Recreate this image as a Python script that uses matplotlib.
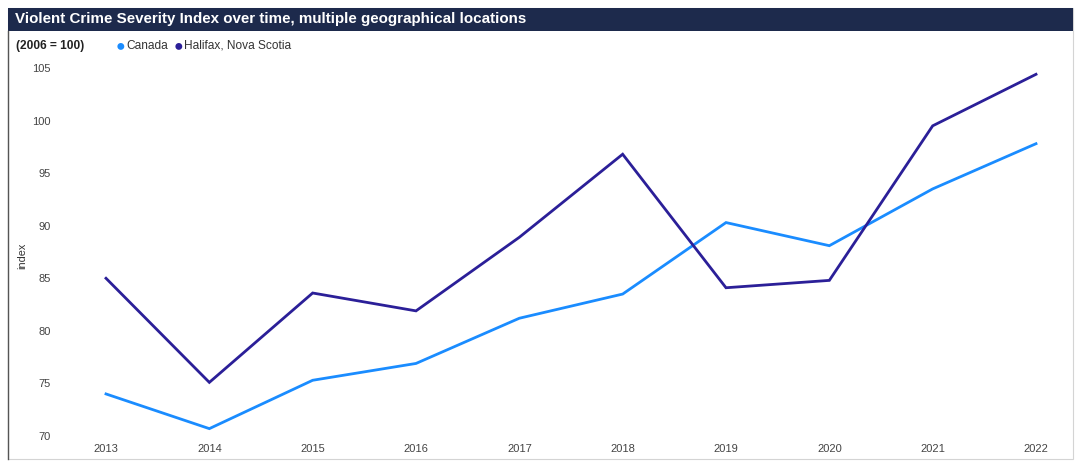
import matplotlib.pyplot as plt
from matplotlib.patches import Rectangle
from matplotlib.lines import Line2D

plt.rcParams['font.family'] = ['Liberation Sans', 'DejaVu Sans']

# data
years = [2013, 2014, 2015, 2016, 2017, 2018, 2019, 2020, 2021, 2022]
canada = [74.0, 70.7, 75.3, 76.9, 81.2, 83.5, 90.3, 88.1, 93.5, 97.8]
halifax = [85.0, 75.1, 83.6, 81.9, 88.9, 96.8, 84.1, 84.8, 99.5, 104.4]
y_ticks = [70, 75, 80, 85, 90, 95, 100, 105]

title = 'Violent Crime Severity Index over time, multiple geographical locations'
base_note = '(2006 = 100)'
series_names = ['Canada', 'Halifax, Nova Scotia']
colors = ['#1a8cff', '#2b1f98']

W, H = 1080, 463
fig = plt.figure(figsize=(W / 100, H / 100), dpi=100)

def fx(px):
    return px / W

def fy(py):
    return 1 - py / H

# outer frame and title bar
fig.add_artist(Rectangle((fx(8), fy(459)), fx(1065), (459 - 8) / H,
                         transform=fig.transFigure, fill=False,
                         edgecolor='#d4d4d4', linewidth=0.8))
fig.add_artist(Line2D([fx(8), fx(8)], [fy(31), fy(459)], transform=fig.transFigure,
                      color='#555555', linewidth=1.0))
fig.add_artist(Rectangle((fx(8), fy(31)), fx(1065), 23 / H,
                         transform=fig.transFigure, facecolor='#1d2a4c',
                         edgecolor='none'))
fig.text(fx(15), fy(19.5), title, color='white', fontsize=10.9,
         fontweight='bold', va='center', ha='left')

# subtitle + legend
fig.text(fx(16), fy(46), base_note, color='#222222', fontsize=8.6,
         fontweight='bold', va='center', ha='left')
leg_x = [120, 178]
for x, name, c in zip(leg_x, series_names, colors):
    fig.text(fx(x), fy(46), '\u25CF', color=c, fontsize=11.5, va='center', ha='center')
    fig.text(fx(x + 6), fy(46), name, color='#333333', fontsize=8.6,
             va='center', ha='left')

# plot area: 2013 at x=106, 2022 at x=1036; 70 at y=436, 105 at y=68
left_px, right_px = 70, 1060
px_per_year = (1036 - 106) / 9
x0 = 2013 - (106 - left_px) / px_per_year
x1 = 2022 + (right_px - 1036) / px_per_year
px_per_unit = (436 - 68) / 35
top_px = 58
y1 = 70 + (436 - top_px) / px_per_unit

ax = fig.add_axes([fx(left_px), fy(436), fx(right_px - left_px), (436 - top_px) / H])
ax.plot(years, canada, color=colors[0], linewidth=2.0, solid_joinstyle='miter')
ax.plot(years, halifax, color=colors[1], linewidth=2.0, solid_joinstyle='miter')

ax.set_xlim(x0, x1)
ax.set_ylim(70, y1)
ax.set_xticks(years)
ax.set_yticks(y_ticks)
ax.tick_params(axis='both', length=0, labelsize=8.0, labelcolor='#444444')
ax.tick_params(axis='y', pad=14)
ax.tick_params(axis='x', pad=6)
for s in ax.spines.values():
    s.set_visible(False)
ax.patch.set_alpha(0)

fig.text(fx(22), fy(256), 'index', rotation=90, fontsize=7.8, color='#333333',
         va='center', ha='center')

fig.savefig('out.png', dpi=100)
